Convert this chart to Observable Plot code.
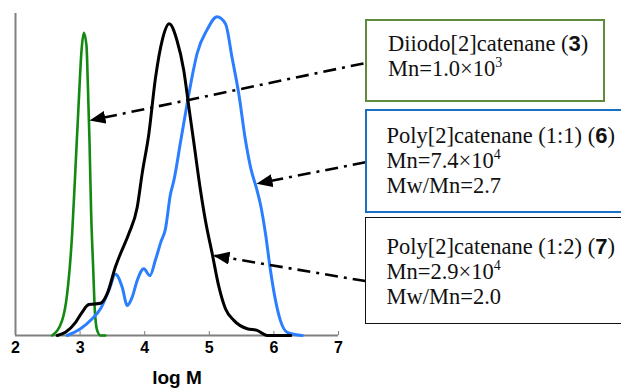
<!DOCTYPE html>
<html><head><meta charset="utf-8">
<script src="https://cdn.jsdelivr.net/npm/d3@7"></script>
<script src="https://cdn.jsdelivr.net/npm/@observablehq/plot@0.6"></script>
<style>
body{margin:0;background:#fff;}
#wrap{position:relative;width:621px;height:389px;overflow:hidden;background:#fff;}
#wrap svg{position:absolute;left:0;top:0;}
.box{position:absolute;box-sizing:border-box;font-family:"Liberation Serif","Times New Roman",serif;font-size:22.5px;color:#111;background:#fff;}
.box .ln{white-space:nowrap;}
.b{font-family:"Liberation Sans",Arial,sans-serif;font-weight:bold;font-size:22px;}
.sup{font-size:14px;position:relative;top:-9px;line-height:0;}
</style></head><body><div id="wrap"></div>
<script>
// ---- data ----
const xTicks = [2, 3, 4, 5, 6, 7];

const greenX = [2.568, 2.722, 2.80, 2.877, 2.929, 2.98, 3.022, 3.058, 3.099, 3.12, 3.146, 3.171, 3.202, 3.228, 3.264, 3.316, 3.39];
const greenY = [0, 0.047, 0.13, 0.316, 0.523, 0.73, 0.885, 0.94, 0.90, 0.78, 0.60, 0.38, 0.212, 0.078, 0.016, 0, 0];

const blackX = [2.645, 2.774, 2.93, 3.03, 3.135, 3.316, 3.42, 3.55, 3.625, 3.754, 3.884, 3.96, 4.064, 4.167, 4.27, 4.38, 4.50, 4.605, 4.683, 4.76, 4.864, 4.94, 5.045, 5.15, 5.25, 5.38, 5.587, 5.74, 5.896, 6.26];
const blackY = [0, 0.01, 0.041, 0.072, 0.096, 0.10, 0.13, 0.215, 0.254, 0.316, 0.398, 0.502, 0.626, 0.80, 0.916, 0.968, 0.916, 0.823, 0.71, 0.60, 0.45, 0.357, 0.254, 0.15, 0.083, 0.047, 0.021, 0.016, 0, 0];

const blueX = [2.80, 3.006, 3.187, 3.316, 3.445, 3.548, 3.652, 3.73, 3.806, 3.884, 3.986, 4.08, 4.167, 4.25, 4.32, 4.40, 4.45, 4.554, 4.657, 4.76, 4.81, 4.967, 5.12, 5.25, 5.355, 5.457, 5.56, 5.638, 5.74, 5.79, 5.87, 5.947, 6.025, 6.10, 6.206, 6.44];
const blueY = [0, 0.021, 0.052, 0.083, 0.14, 0.19, 0.15, 0.093, 0.119, 0.171, 0.207, 0.186, 0.235, 0.29, 0.33, 0.44, 0.48, 0.60, 0.72, 0.83, 0.875, 0.95, 0.99, 0.968, 0.86, 0.75, 0.606, 0.523, 0.45, 0.409, 0.316, 0.202, 0.109, 0.047, 0.01, 0];

// arrows: from label box to curve
const arrowX1 = [7.387, 7.418, 7.418];
const arrowY1 = [0.845, 0.538, 0.169];
const arrowX2 = [3.161, 5.746, 5.080];
const arrowY2 = [0.668, 0.472, 0.248];

const labelNames = ["Diiodo[2]catenane", "Poly[2]catenane (1:1)", "Poly[2]catenane (1:2)"];
const labelIds = ["3", "6", "7"];
const mnMantissa = ["1.0", "7.4", "2.9"];
const mnExp = ["3", "4", "4"];
const pdi = [null, "2.7", "2.0"];
const xLabel = "log M";

// ---- build ----
const toRows = (xs, ys) => xs.map((x, i) => ({x, y: ys[i]}));
const green = toRows(greenX, greenY);
const black = toRows(blackX, blackY);
const blue = toRows(blueX, blueY);
const arrows = arrowX1.map((x1, i) => ({x1, y1: arrowY1[i], x2: arrowX2[i], y2: arrowY2[i]}));

const chart = Plot.plot({
  width: 621, height: 389,
  marginLeft: 15, marginRight: 283, marginTop: 13, marginBottom: 54,
  x: {domain: [2, 7]},
  y: {domain: [0, 1], axis: null},
  style: {background: "transparent", overflow: "visible"},
  marks: [
    Plot.ruleX([2], {stroke: "#808080", strokeWidth: 2}),
    Plot.ruleY([0], {stroke: "#808080", strokeWidth: 2}),
    Plot.axisX(xTicks, {tickSize: -4, tickPadding: 10, stroke: "#808080", fill: "#000",
      fontSize: 16, fontWeight: "bold", fontFamily: "Liberation Sans, Arial, sans-serif",
      label: null, tickFormat: d => String(d)}),
    Plot.line(green, {x: "x", y: "y", stroke: "#128a12", strokeWidth: 2.6, curve: "monotone-x"}),
    Plot.line(blue, {x: "x", y: "y", stroke: "#2b7fff", strokeWidth: 3, curve: "monotone-x"}),
    Plot.line(black, {x: "x", y: "y", stroke: "#000", strokeWidth: 3, curve: "monotone-x"}),
    Plot.link(arrows, {x1: "x1", y1: "y1", x2: "x2", y2: "y2", stroke: "#000", strokeWidth: 2.6, strokeDasharray: "13,6,3,6"}),
    Plot.text([xLabel], {text: d => d, frameAnchor: "bottom", dy: 48, fontSize: 19, fontWeight: "bold",
      fontFamily: "Liberation Sans, Arial, sans-serif", fill: "#000"})
  ]
});

const wrap = document.getElementById("wrap");
wrap.appendChild(chart);

// filled arrowheads
const svg = d3.select(chart);
svg.append("defs").append("marker")
  .attr("id", "ah").attr("viewBox", "0 0 16 13").attr("refX", 15).attr("refY", 6.5)
  .attr("markerWidth", 16).attr("markerHeight", 13).attr("markerUnits", "userSpaceOnUse")
  .attr("orient", "auto")
  .append("path").attr("d", "M0,0L16,6.5L0,13Z").attr("fill", "#000").attr("stroke", "none");
svg.selectAll('g[aria-label="link"] path').attr("marker-end", "url(#ah)");

// label boxes
const boxStyles = [
  {left: 365, top: 19, width: 240, height: 83, border: "2px solid #5f8b3c", pt: 11.2, pl: 21, lh: 24.5},
  {left: 365, top: 109, width: 270, height: 104, border: "2.5px solid #1c6fc6", pt: 12.4, pl: 19.5, lh: 25},
  {left: 365, top: 217, width: 270, height: 107, border: "1.5px solid #111", pt: 16.4, pl: 20.5, lh: 25}
];
labelNames.forEach((name, i) => {
  const s = boxStyles[i];
  const div = document.createElement("div");
  div.className = "box";
  Object.assign(div.style, {left: s.left + "px", top: s.top + "px", width: s.width + "px", height: s.height + "px",
    border: s.border, paddingTop: s.pt + "px", paddingLeft: s.pl + "px", lineHeight: s.lh + "px"});
  let html = `<div class="ln">${name} (<span class="b">${labelIds[i]}</span>)</div>`;
  html += `<div class="ln">Mn=${mnMantissa[i]}\u00d710<span class="sup">${mnExp[i]}</span></div>`;
  if (pdi[i]) html += `<div class="ln">Mw/Mn=${pdi[i]}</div>`;
  div.innerHTML = html;
  wrap.appendChild(div);
});
</script>
</body></html>
